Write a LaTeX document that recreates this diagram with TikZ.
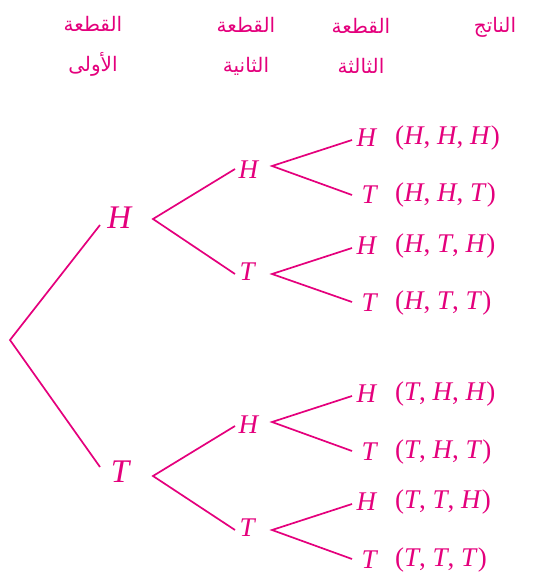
\documentclass[tikz,border=0pt]{standalone}
\usepackage{fontspec}
\setmainfont{Liberation Serif}
\TeXXeTstate=1
\newfontfamily\arabicfont[Script=Arabic]{DejaVu Sans}
\definecolor{pk}{HTML}{E4007C}
\newcommand{\vH}{\textit{H}}
\newcommand{\vT}{\textit{T}}
\begin{document}
\begin{tikzpicture}[x=1pt,y=-1pt,
  every node/.style={text=pk,inner sep=0pt},
  lab/.style={font=\fontsize{27}{32}\selectfont},
  biglab/.style={font=\fontsize{33}{38}\selectfont},
  res/.style={font=\fontsize{27}{32}\selectfont,anchor=west},
  hdr/.style={font=\arabicfont\fontsize{20}{40}\selectfont,align=center},
  br/.style={draw=pk,line width=1.7pt}]
\useasboundingbox (0,0) rectangle (534,578);
% headers
\node[hdr] (h1) at (93,46) {\beginR القطعة\endR\\\beginR الأولى\endR};
\node[hdr] (h2) at (246,46) {\beginR القطعة\endR\\\beginR الثانية\endR};
\node[hdr] (h3) at (361,46) {\beginR القطعة\endR\\\beginR الثالثة\endR};
\node[hdr] (h4) at (495,27) {\beginR الناتج\endR};
% tree
\coordinate (root) at (10,340);
\node[biglab] (H1) at (120,218) {\vH};
\node[biglab] (T1) at (121,472) {\vT};
\node[lab] (HH) at (249,170) {\vH};
\node[lab] (HT) at (248,272) {\vT};
\node[lab] (TH) at (249,425) {\vH};
\node[lab] (TT) at (248,528) {\vT};
\node[lab] (HHH) at (367,138) {\vH};
\node[lab] (HHT) at (370,195) {\vT};
\node[lab] (HTH) at (367,246) {\vH};
\node[lab] (HTT) at (370,303) {\vT};
\node[lab] (THH) at (367,394) {\vH};
\node[lab] (THT) at (370,452) {\vT};
\node[lab] (TTH) at (367,502) {\vH};
\node[lab] (TTT) at (370,560) {\vT};
\node[res] (rHHH) at (395,138) {(\vH, \vH, \vH)};
\node[res] (rHHT) at (395,195) {(\vH, \vH, \vT)};
\node[res] (rHTH) at (395,246) {(\vH, \vT, \vH)};
\node[res] (rHTT) at (395,303) {(\vH, \vT, \vT)};
\node[res] (rTHH) at (395,394) {(\vT, \vH, \vH)};
\node[res] (rTHT) at (395,452) {(\vT, \vH, \vT)};
\node[res] (rTTH) at (395,502) {(\vT, \vT, \vH)};
\node[res] (rTTT) at (395,560) {(\vT, \vT, \vT)};
% branches
\draw[br] ([xshift=-20pt,yshift=-7pt]H1.center) -- (root) -- ([xshift=-21pt,yshift=5pt]T1.center);
\draw[br] ([xshift=-14pt,yshift=1pt]HH.center) -- ([xshift=33pt,yshift=-1pt]H1.center) -- ([xshift=-13pt,yshift=-2pt]HT.center);
\draw[br] ([xshift=-14pt,yshift=-1pt]TH.center) -- ([xshift=32pt,yshift=-4pt]T1.center) -- ([xshift=-13pt,yshift=-2pt]TT.center);
\draw[br] ([xshift=-15pt,yshift=-2pt]HHH.center) -- ([xshift=23pt,yshift=4pt]HH.center) -- ([xshift=-18pt]HHT.center);
\draw[br] ([xshift=-15pt,yshift=-2pt]HTH.center) -- ([xshift=24pt,yshift=-2pt]HT.center) -- ([xshift=-18pt,yshift=1pt]HTT.center);
\draw[br] ([xshift=-15pt,yshift=-2pt]THH.center) -- ([xshift=23pt,yshift=3pt]TH.center) -- ([xshift=-18pt,yshift=1pt]THT.center);
\draw[br] ([xshift=-15pt,yshift=-2pt]TTH.center) -- ([xshift=24pt,yshift=-2pt]TT.center) -- ([xshift=-18pt,yshift=1pt]TTT.center);
\end{tikzpicture}
\end{document}
